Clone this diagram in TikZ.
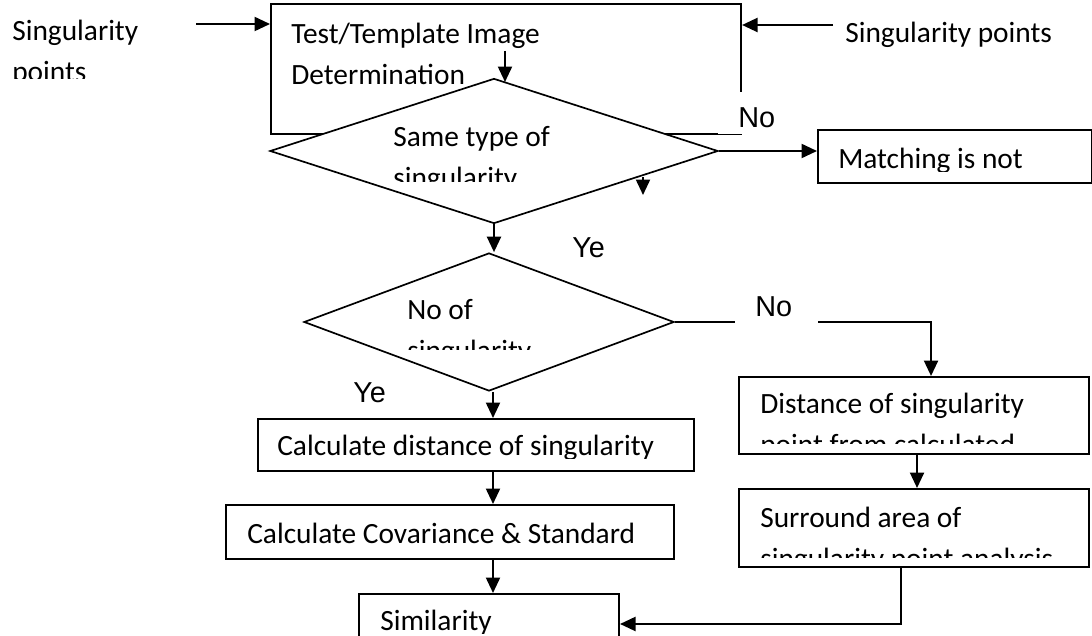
\documentclass[tikz,border=0pt]{standalone}
\usepackage{fontspec}
\setmainfont{Carlito}
\newfontfamily\arialfont{Liberation Sans}
\usetikzlibrary{arrows.meta, shapes.geometric}

\tikzset{
  box/.style={draw, line width=1.4pt, anchor=north west, inner sep=0pt, fill=white},
  decision/.style={draw, diamond, line width=1.2pt, inner sep=0pt, fill=white},
  txt/.style={anchor=base west, inner sep=0pt, font=\fontsize{20.9}{25}\selectfont},
  yn/.style={anchor=base west, inner sep=0pt, font=\arialfont\fontsize{20.5}{24}\selectfont},
  mask/.style={fill=white, anchor=north west, inner sep=0pt},
  arr/.style={line width=1.4pt, -{Triangle[length=11pt, width=10pt]}},
}

\begin{document}
\begin{tikzpicture}[x=0.025cm, y=-0.025cm]
  \useasboundingbox (0,0) rectangle (1092,636);

  \node[box, minimum width=11.75cm, minimum height=3.25cm] (top) at (270,3) {};
  \node[txt] (top1) at (291,44) {Test/Template Image};
  \node[txt] (top2) at (291,85) {Determination};

  \begin{scope}
    \clip (0,0) rectangle (250,79);
    \node[txt] (lsp1) at (12,41) {Singularity};
    \node[txt] (lsp2) at (12,82) {points};
  \end{scope}
  \node[txt] (rsp) at (845,43) {Singularity points};
  \coordinate (lin) at (196,24);
  \coordinate (rin) at (833,25);
  \draw[arr] (lin) -- (lin -| top.west);
  \draw[arr] (rin) -- (rin -| top.east);

  \node[decision, minimum width=11.2cm, minimum height=3.625cm] (same) at (494,151) {};
  \coordinate (a0) at (505,51);
  \coordinate (a1) at (505,82);
  \draw[arr] (a0) -- (a1);
  \begin{scope}
    \clip (380,120) rectangle (640,182);
    \node[txt] (same1) at (393,147) {Same type of};
    \node[txt] (same2) at (393,188) {singularity};
  \end{scope}

  \node[mask, minimum width=2cm, minimum height=1.05cm] (no1bg) at (718,92) {};
  \node[yn] (no1) at (738,128) {No};

  \node[box, minimum width=6.85cm, minimum height=1.325cm] (match) at (817,129) {};
  \begin{scope}
    \clip (820,132) rectangle (1088,172);
    \node[txt] (match1) at (838,169) {Matching is not};
  \end{scope}
  \draw[arr] (same.east) -- (same.east -| match.west);

  \coordinate (b0) at (643,177);
  \coordinate (b1) at (643,195);
  \draw[arr] (b0) -- (b1);

  \node[decision, minimum width=9.25cm, minimum height=3.45cm] (count) at (489,322) {};
  \draw[arr] (same.south) -- (same.south |- count.north);
  \node[yn] (ye1) at (572,258) {Ye};
  \begin{scope}
    \clip (390,290) rectangle (600,350);
    \node[txt] (count1) at (407,320) {No of};
    \node[txt] (count2) at (407,361) {singularity};
  \end{scope}

  \node[box, minimum width=8.75cm, minimum height=1.925cm] (dist) at (738,376) {};
  \begin{scope}
    \clip (740,380) rectangle (1085,443);
    \node[txt] (dist1) at (760,413) {Distance of singularity};
    \node[txt] (dist2) at (760,454) {point from calculated};
  \end{scope}
  \draw[arr] (count.east) -| ([xshift=0.425cm]dist.north);
  \node[mask, minimum width=2.075cm, minimum height=0.8cm] (no2bg) at (735,295) {};
  \node[yn] (no2) at (755,317) {No};

  \node[box, minimum width=8.75cm, minimum height=1.95cm] (sur) at (738,488) {};
  \begin{scope}
    \clip (740,492) rectangle (1085,557);
    \node[txt] (sur1) at (760,527) {Surround area of};
    \node[txt] (sur2) at (760,568) {singularity point analysis};
  \end{scope}
  \draw[arr] ([xshift=0.075cm]dist.south) -- ([xshift=0.075cm]sur.north);

  \node[box, minimum width=10.9cm, minimum height=1.3cm] (calc) at (257,418) {};
  \begin{scope}
    \clip (260,420) rectangle (690,458);
    \node[txt] (calc1) at (277,455) {Calculate distance of singularity};
  \end{scope}
  \draw[arr] ([xshift=0.1cm]count.south) -- ([xshift=0.1cm]count.south |- calc.north);
  \node[yn] (ye2) at (353,402) {Ye};

  \node[box, minimum width=11.2cm, minimum height=1.35cm] (cov) at (225,504) {};
  \node[txt] (cov1) at (247,543) {Calculate Covariance \& Standard};
  \draw[arr] ([xshift=0.1cm]count.south |- calc.south) -- ([xshift=0.1cm]count.south |- cov.north);

  \node[box, minimum width=6.5cm, minimum height=1.5cm] (sim) at (358,593) {};
  \begin{scope}
    \clip (360,596) rectangle (615,633);
    \node[txt] (sim1) at (380,630) {Similarity};
  \end{scope}
  \draw[arr] ([xshift=0.1cm]count.south |- cov.south) -- ([xshift=0.1cm]count.south |- sim.north);
  \draw[arr] ([xshift=-0.325cm]sur.south) |- (sim.east);
\end{tikzpicture}
\end{document}
